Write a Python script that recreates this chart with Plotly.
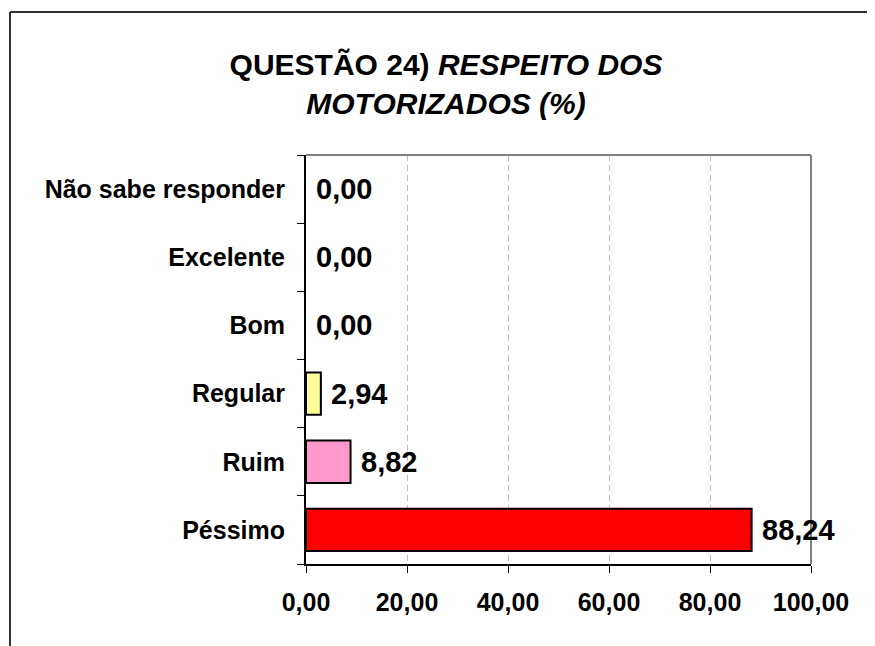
import plotly.graph_objects as go

categories = ["Péssimo", "Ruim", "Regular", "Bom", "Excelente", "Não sabe responder"]
values = [88.24, 8.82, 2.94, 0.00, 0.00, 0.00]
bar_colors = ["#FF0000", "#FF99CC", "#FFFF99", "#9999FF", "#993366", "#FFFFCC"]
x_ticks = [0, 20, 40, 60, 80, 100]

# page body has an 8px margin, so the figure is slightly smaller than the window
W, H = 867, 638
L, R, T, B = 298, 64, 147, 82
PW, PH = W - L - R, H - T - B

def px_to_paper_x(px):
    return (px - L) / PW

def px_to_paper_y(py):
    return (H - B - py) / PH

FONT = "Liberation Sans, Arial, sans-serif"

fig = go.Figure()
fig.add_trace(go.Bar(
    y=categories, x=values, orientation="h",
    marker=dict(color=bar_colors,
                line=dict(color="#000000", width=[2 if v > 0 else 0 for v in values])),
    width=0.62, hoverinfo="skip", showlegend=False,
))

for c, v in zip(categories, values):
    fig.add_annotation(
        x=v, y=c, xref="x", yref="y", text=f"{v:.2f}".replace(".", ","),
        showarrow=False, xanchor="left", yanchor="middle", xshift=8,
        font=dict(family=FONT, size=29, color="#000000", weight="bold"),
    )

# outer chart frame (top and left edges visible)
fig.add_shape(type="line", xref="paper", yref="paper",
              x0=px_to_paper_x(2), x1=px_to_paper_x(880),
              y0=px_to_paper_y(4), y1=px_to_paper_y(4),
              line=dict(color="#333333", width=2))
fig.add_shape(type="line", xref="paper", yref="paper",
              x0=px_to_paper_x(2), x1=px_to_paper_x(2),
              y0=px_to_paper_y(4), y1=px_to_paper_y(650),
              line=dict(color="#333333", width=2))
# plot area top/right border (gray)
fig.add_shape(type="line", xref="paper", yref="paper", x0=0, x1=1, y0=1, y1=1,
              line=dict(color="#808080", width=2))
fig.add_shape(type="line", xref="paper", yref="paper", x0=1, x1=1, y0=0, y1=1,
              line=dict(color="#808080", width=2))

fig.update_layout(
    width=W, height=H,
    margin=dict(l=L, r=R, t=T, b=B, autoexpand=False),
    paper_bgcolor="white", plot_bgcolor="white",
    separators=",.",
    font=dict(family=FONT, color="#000000"),
    title=dict(
        text="QUESTÃO 24) <i>RESPEITO DOS</i><br><i>MOTORIZADOS (%)</i>",
        font=dict(family=FONT, size=30, color="#000000", weight="bold"),
        x=438 / W, xanchor="center", xref="container",
        y=1 - 67 / H, yanchor="middle", yref="container",
    ),
    xaxis=dict(
        range=[0, 100], tickvals=x_ticks, tickformat=".2f",
        showgrid=True, gridcolor="#BEBEBE", griddash="6px,4px", gridwidth=1,
        showline=True, linecolor="#000000", linewidth=2,
        ticks="outside", ticklen=7, tickcolor="#000000", tickwidth=1,
        tickfont=dict(family=FONT, size=25, color="#000000", weight="bold"),
        ticklabelstandoff=8, zeroline=False, fixedrange=True,
    ),
    yaxis=dict(
        range=[-0.5, 5.5], categoryorder="array", categoryarray=categories,
        showgrid=False, showline=True, linecolor="#000000", linewidth=2,
        ticks="outside", ticklen=7, tickcolor="#000000", tickwidth=1,
        tickson="boundaries",
        tickfont=dict(family=FONT, size=25, color="#000000", weight="bold"),
        ticklabelstandoff=14, zeroline=False, fixedrange=True,
    ),
)

fig.write_html("out.html")
